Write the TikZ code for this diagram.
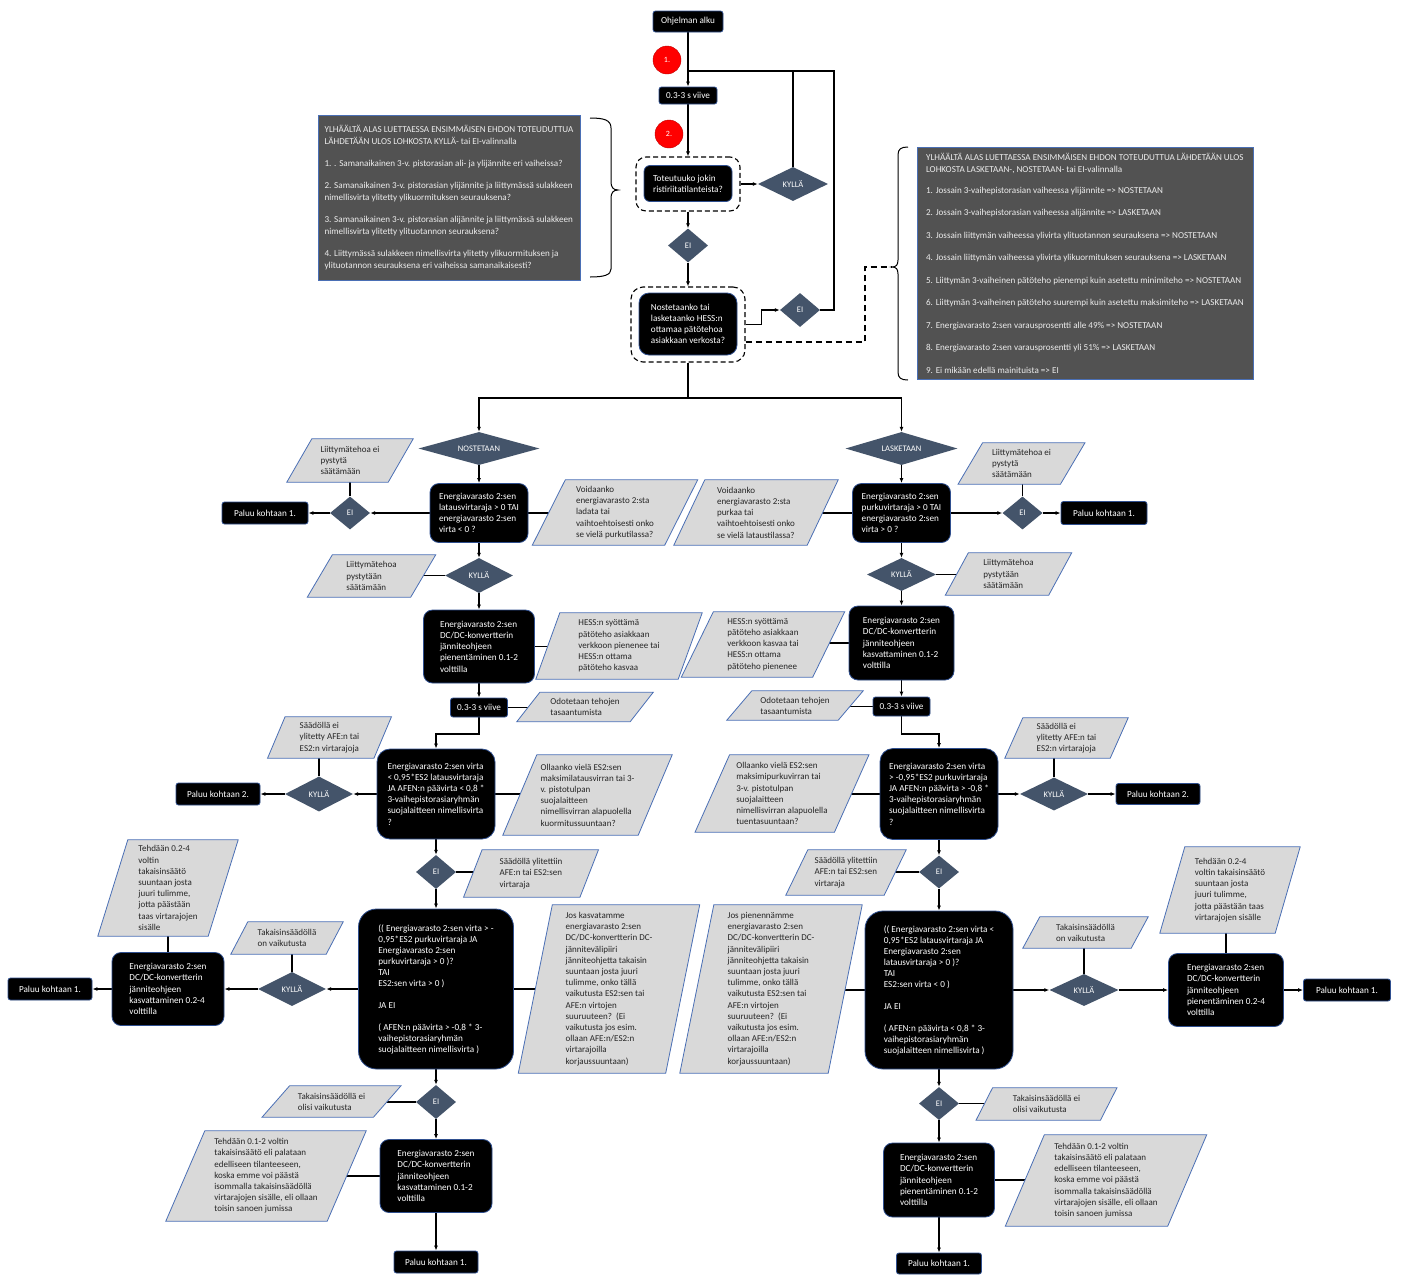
\documentclass[tikz,border=0pt]{standalone}
\usepackage{fontspec}
\setmainfont{Carlito}
\usetikzlibrary{shapes.geometric,arrows.meta,calc}

\pgfdeclarelayer{bg}
\pgfdeclarelayer{lines}
\pgfdeclarelayer{shapes}
\pgfsetlayers{bg,lines,shapes,main}

\definecolor{boxborder}{HTML}{2F4F8F}
\definecolor{diafill}{HTML}{44546A}
\definecolor{parafill}{HTML}{D9D9D9}
\definecolor{paraborder}{HTML}{4A6FB5}
\definecolor{notefill}{HTML}{525252}
\definecolor{notetext}{HTML}{EDEDED}
\definecolor{redmark}{HTML}{FF0000}

\tikzset{
  conn/.style={line width=1.1pt, draw=black},
  arr/.style={conn, -{Latex[length=5pt,width=4pt]}},
  blk/.style={draw=boxborder, line width=0.8pt, fill=black, text=white,
    rounded corners=9pt, align=left, inner sep=1pt,
    font=\fontsize{9.2}{11.2}\selectfont},
  smallblk/.style={blk, rounded corners=2.5pt},
  frm/.style={draw=black, line width=1.1pt, dash pattern=on 5pt off 3pt},
  dia/.style={diamond, fill=diafill, text=white, inner sep=0pt, aspect=2,
    font=\fontsize{8.5}{10}\selectfont},
  paratext/.style={align=left, inner sep=1pt, text=black!85,
    font=\fontsize{9}{11.2}\selectfont},
  parashape/.style={fill=parafill, draw=paraborder, line width=0.8pt},
  note/.style={fill=notefill, draw=paraborder, line width=0.8pt,
    text=notetext, align=left, inner sep=4pt},
  redc/.style={circle, fill=redmark, draw=red!75!black, line width=0.4pt,
    minimum size=28pt, inner sep=0pt, text=white,
    font=\fontsize{8}{9}\selectfont},
  brc/.style={line width=1pt, draw=black},
}

% parallelogram: name, x, y, width at mid height, height, slant, text
\newcommand\paranode[7]{%
  \node[paratext, minimum width=#4pt, minimum height=#5pt] (#1) at (#2,#3) {#7};
  \begin{pgfonlayer}{shapes}
    \path[parashape] ($(#1.north west)+(0.5*#6,0)$) -- ($(#1.north east)+(0.5*#6,0)$)
      -- ($(#1.south east)-(0.5*#6,0)$) -- ($(#1.south west)-(0.5*#6,0)$) -- cycle;
  \end{pgfonlayer}}

\begin{document}
\begin{tikzpicture}[x=1pt, y=-1pt]
\begin{pgfonlayer}{bg}
  \fill[white] (0,0) rectangle (1401,1275);
\end{pgfonlayer}
\useasboundingbox (0,0) rectangle (1401,1275);

% ---------- start and conflict check ----------
\node[smallblk, minimum width=70pt, minimum height=21pt] (alku) at (688,21.5) {Ohjelman alku};
\node[redc] (c1) at (667,60) {1.};
\node[smallblk, minimum width=58pt, minimum height=17pt] (viive0) at (688,95.5) {0.3-3 s viive};
\node[redc] (c2) at (669,134) {2.};
\node[frm, rounded corners=10pt, minimum width=104pt, minimum height=54pt] (frame1) at (688,184) {};
\node[blk, rounded corners=6pt, minimum width=88pt, minimum height=36pt] (ask1) at (688,183.5) {Toteutuuko jokin\\ristiriitatilanteista?};
\node[dia, minimum width=70pt, minimum height=34pt] (kylla0) at (793,184) {KYLLÄ};
\node[dia, minimum width=40pt, minimum height=34pt] (ei0) at (688,245.5) {EI};
\node[frm, rounded corners=12pt, minimum width=114pt, minimum height=75pt] (frame2) at (688,324.5) {};
\node[blk, rounded corners=10pt, minimum width=98pt, minimum height=62pt] (ask2) at (688,324) {Nostetaanko tai\\lasketaanko HESS:n\\ottamaa pätötehoa\\asiakkaan verkosta?};
\node[dia, minimum width=40pt, minimum height=34pt] (ei1) at (800,310) {EI};

\node[note, minimum width=262pt, minimum height=165pt, font=\fontsize{9.1}{12}\selectfont] (noteL) at (449,197.5) {%
YLHÄÄLTÄ ALAS LUETTAESSA ENSIMMÄISEN EHDON TOTEUDUTTUA\\
LÄHDETÄÄN ULOS LOHKOSTA KYLLÄ- tai EI-valinnalla\\[10pt]
1. . Samanaikainen 3-v. pistorasian ali- ja ylijännite eri vaiheissa?\\[10pt]
2. Samanaikainen 3-v. pistorasian ylijännite ja liittymässä sulakkeen\\
nimellisvirta ylitetty ylikuormituksen seurauksena?\\[10pt]
3. Samanaikainen 3-v. pistorasian alijännite ja liittymässä sulakkeen\\
nimellisvirta ylitetty ylituotannon seurauksena?\\[10pt]
4. Liittymässä sulakkeen nimellisvirta ylitetty ylikuormituksen ja\\
ylituotannon seurauksena eri vaiheissa samanaikaisesti?};

\node[note, minimum width=336pt, minimum height=232pt, font=\fontsize{9.1}{12.5}\selectfont] (noteR) at (1085,263) {%
YLHÄÄLTÄ ALAS LUETTAESSA ENSIMMÄISEN EHDON TOTEUDUTTUA LÄHDETÄÄN ULOS\\
LOHKOSTA LASKETAAN-, NOSTETAAN- tai EI-valinnalla\\[8pt]
1. Jossain 3-vaihepistorasian vaiheessa ylijännite => NOSTETAAN\\[10pt]
2. Jossain 3-vaihepistorasian vaiheessa alijännite => LASKETAAN\\[10pt]
3. Jossain liittymän vaiheessa ylivirta ylituotannon seurauksena => NOSTETAAN\\[10pt]
4. Jossain liittymän vaiheessa ylivirta ylikuormituksen seurauksena => LASKETAAN\\[10pt]
5. Liittymän 3-vaiheinen pätöteho pienempi kuin asetettu minimiteho => NOSTETAAN\\[10pt]
6. Liittymän 3-vaiheinen pätöteho suurempi kuin asetettu maksimiteho => LASKETAAN\\[10pt]
7. Energiavarasto 2:sen varausprosentti alle 49\% => NOSTETAAN\\[10pt]
8. Energiavarasto 2:sen varausprosentti yli 51\% => LASKETAAN\\[10pt]
9. Ei mikään edellä mainituista => EI};

% braces
\draw[brc] (590,118) .. controls (604,118) and (611,120) .. (611,128) -- (611,182)
  .. controls (611,187) and (613,190) .. (618,190) .. controls (613,190) and (611,193) .. (611,198)
  -- (611,269) .. controls (611,275) and (604,277) .. (590,277);
\draw[brc] (908,147) .. controls (901,147) and (898,149) .. (898,155) -- (898,260)
  .. controls (898,265) and (896,267) .. (892,267) .. controls (896,267) and (898,269) .. (898,274)
  -- (898,372) .. controls (898,378) and (901,380) .. (908,380);

\coordinate (jn) at (688,71);
\coordinate (jr) at (834,71);
\coordinate (rbtip) at (892,267);
\coordinate (dj) at (865,342);
\coordinate (sp) at (688,398);
\coordinate (jl) at (479,734);
\coordinate (jrr) at (901.5,734);

% ---------- NOSTETAAN branch ----------
\node[dia, minimum width=121pt, minimum height=33pt] (nost) at (479,448.5) {NOSTETAAN};
\node[blk, minimum width=98pt, minimum height=59pt] (L1) at (479,513) {Energiavarasto 2:sen\\latausvirtaraja > 0 TAI\\energiavarasto 2:sen\\virta < 0 ?};
\node[dia, minimum width=40pt, minimum height=33pt] (eiL1) at (350,513) {EI};
\node[smallblk, minimum width=86pt, minimum height=22pt] (paluuL1) at (265,513) {Paluu kohtaan 1.};
\paranode{P1}{350}{460.5}{101}{43}{25}{Liittymätehoa ei\\pystytä\\säätämään}
\paranode{P2}{615}{512.5}{132}{65}{33}{Voidaanko\\energiavarasto 2:sta\\ladata tai\\vaihtoehtoisesti onko\\se vielä purkutilassa?}
\node[dia, minimum width=68pt, minimum height=35pt] (kyllaL1) at (479,575.5) {KYLLÄ};
\paranode{P3}{371.5}{576}{103}{42}{25}{Liittymätehoa\\pystytään\\säätämään}
\node[blk, minimum width=111pt, minimum height=73pt] (L2) at (479,646.5) {Energiavarasto 2:sen\\DC/DC-konvertterin\\jänniteohjeen\\pienentäminen 0.1-2\\volttilla};
\paranode{P4}{619}{646}{142}{66}{24}{HESS:n syöttämä\\pätöteho asiakkaan\\verkkoon pienenee tai\\HESS:n ottama\\pätöteho kasvaa}
\node[smallblk, minimum width=57pt, minimum height=19pt] (viiveL) at (479,707.5) {0.3-3 s viive};
\paranode{P5}{585}{707}{113}{29}{23}{Odotetaan tehojen\\tasaantumista}

\node[blk, rounded corners=13pt, minimum width=118pt, minimum height=90pt] (L3) at (436,794) {Energiavarasto 2:sen virta\\< 0,95*ES2 latausvirtaraja\\JA AFEN:n päävirta < 0,8 *\\3-vaihepistorasiaryhmän\\suojalaitteen nimellisvirta\\?};
\node[dia, minimum width=68pt, minimum height=35pt] (kyllaL3) at (319,794) {KYLLÄ};
\node[smallblk, minimum width=84pt, minimum height=22pt] (paluu2L) at (218,794) {Paluu kohtaan 2.};
\paranode{P6}{329.5}{737.5}{106}{41}{17.5}{Säädöllä ei\\ylitetty AFE:n tai\\ES2:n virtarajoja}
\paranode{P7}{587.5}{795}{135}{80}{34}{Ollaanko vielä ES2:sen\\maksimilatausvirran tai 3-\\v. pistotulpan\\suojalaitteen\\nimellisvirran alapuolella\\kuormitussuuntaan?}
\node[dia, minimum width=40pt, minimum height=34pt] (eiL3) at (436,872) {EI};
\paranode{P8}{531}{873.5}{116}{47}{18.5}{Säädöllä ylitettiin\\AFE:n tai ES2:sen\\virtaraja}

\node[blk, rounded corners=18pt, minimum width=155pt, minimum height=160pt, font=\fontsize{9.2}{11}\selectfont] (L6) at (436,989) {(( Energiavarasto 2:sen virta > -\\0,95*ES2 purkuvirtaraja JA\\Energiavarasto 2:sen\\purkuvirtaraja > 0 )?\\TAI\\ES2:sen virta > 0 )\\[11pt]JA EI\\[11pt]( AFEN:n päävirta > -0,8 * 3-\\vaihepistorasiaryhmän\\suojalaitteen nimellisvirta )};
\node[dia, minimum width=68pt, minimum height=34pt] (kyllaL6) at (292,989) {KYLLÄ};
\node[blk, minimum width=112pt, minimum height=73pt] (L5) at (168,989) {Energiavarasto 2:sen\\DC/DC-konvertterin\\jänniteohjeen\\kasvattaminen 0.2-4\\volttilla};
\node[smallblk, minimum width=84pt, minimum height=22pt] (paluuL5) at (50,989) {Paluu kohtaan 1.};
\paranode{P9}{168}{888}{110}{96}{30}{Tehdään 0.2-4\\voltin\\takaisinsäätö\\suuntaan josta\\juuri tulimme,\\jotta päästään\\taas virtarajojen\\sisälle}
\paranode{P10}{287}{938}{95}{32}{17}{Takaisinsäädöllä\\on vaikutusta}
\paranode{P11}{609}{989}{147}{168}{34}{Jos kasvatamme\\energiavarasto 2:sen\\DC/DC-konvertterin DC-\\jännitevälipiiri\\jänniteohjetta takaisin\\suuntaan josta juuri\\tulimme, onko tällä\\vaikutusta ES2:sen tai\\AFE:n virtojen\\suuruuteen?\ \ (Ei\\vaikutusta jos esim.\\ollaan AFE:n/ES2:n\\virtarajoilla\\korjaussuuntaan)}
\node[dia, minimum width=40pt, minimum height=34pt] (eiL6) at (436,1102) {EI};
\paranode{P12}{331.5}{1101.5}{111}{31}{27.5}{Takaisinsäädöllä ei\\olisi vaikutusta}
\node[blk, minimum width=112pt, minimum height=73pt] (L7) at (436,1176) {Energiavarasto 2:sen\\DC/DC-konvertterin\\jänniteohjeen\\kasvattaminen 0.1-2\\volttilla};
\paranode{P13}{266}{1176}{161}{90}{39}{Tehdään 0.1-2 voltin\\takaisinsäätö eli palataan\\edelliseen tilanteeseen,\\koska emme voi päästä\\isommalla takaisinsäädöllä\\virtarajojen sisälle, eli ollaan\\toisin sanoen jumissa}
\node[smallblk, minimum width=84pt, minimum height=22pt] (paluuL7) at (436,1262) {Paluu kohtaan 1.};

% ---------- LASKETAAN branch ----------
\node[dia, minimum width=112pt, minimum height=33pt] (lask) at (901.5,448.5) {LASKETAAN};
\node[blk, minimum width=98pt, minimum height=59pt] (R1) at (901.5,513) {Energiavarasto 2:sen\\purkuvirtaraja > 0 TAI\\energiavarasto 2:sen\\virta > 0 ?};
\node[dia, minimum width=40pt, minimum height=33pt] (eiR1) at (1022.5,513) {EI};
\node[smallblk, minimum width=86pt, minimum height=23pt] (paluuR1) at (1104,513) {Paluu kohtaan 1.};
\paranode{Q1}{1021.5}{463.5}{102}{41}{24.5}{Liittymätehoa ei\\pystytä\\säätämään}
\paranode{Q2}{756}{512.5}{133}{65}{31}{Voidaanko\\energiavarasto 2:sta\\purkaa tai\\vaihtoehtoisesti onko\\se vielä lataustilassa?}
\node[dia, minimum width=69pt, minimum height=33pt] (kyllaR1) at (901.5,574.5) {KYLLÄ};
\paranode{Q3}{1008.5}{574}{103}{42}{23}{Liittymätehoa\\pystytään\\säätämään}
\node[blk, minimum width=105pt, minimum height=74pt] (R2) at (901.5,643) {Energiavarasto 2:sen\\DC/DC-konvertterin\\jänniteohjeen\\kasvattaminen 0.1-2\\volttilla};
\paranode{Q4}{763}{644.5}{131}{65}{32}{HESS:n syöttämä\\pätöteho asiakkaan\\verkkoon kasvaa tai\\HESS:n ottama\\pätöteho pienenee}
\node[smallblk, minimum width=57pt, minimum height=19pt] (viiveR) at (901.5,706.5) {0.3-3 s viive};
\paranode{Q5}{795}{705.5}{111}{29}{25}{Odotetaan tehojen\\tasaantumista}

\node[blk, rounded corners=13pt, minimum width=118pt, minimum height=91pt] (R3) at (939,794) {Energiavarasto 2:sen virta\\> -0,95*ES2 purkuvirtaraja\\JA AFEN:n päävirta > -0,8 *\\3-vaihepistorasiaryhmän\\suojalaitteen nimellisvirta\\?};
\node[dia, minimum width=68pt, minimum height=33pt] (kyllaR3) at (1054,794) {KYLLÄ};
\node[smallblk, minimum width=84pt, minimum height=21pt] (paluu2R) at (1158,794) {Paluu kohtaan 2.};
\paranode{Q6}{1066.5}{738}{105}{40}{18}{Säädöllä ei\\ylitetty AFE:n tai\\ES2:n virtarajoja}
\paranode{Q7}{782}{793.5}{139}{77}{34.5}{Ollaanko vielä ES2:sen\\maksimipurkuvirran tai\\3-v. pistotulpan\\suojalaitteen\\nimellisvirran alapuolella\\tuentasuuntaan?}
\node[dia, minimum width=40pt, minimum height=33pt] (eiR3) at (939,872) {EI};
\paranode{Q8}{846}{872.5}{98}{45}{22}{Säädöllä ylitettiin\\AFE:n tai ES2:sen\\virtaraja}

\node[blk, rounded corners=18pt, minimum width=148pt, minimum height=158pt, font=\fontsize{9.2}{11}\selectfont] (R6) at (939,990) {(( Energiavarasto 2:sen virta <\\0,95*ES2 latausvirtaraja JA\\Energiavarasto 2:sen\\latausvirtaraja > 0 )?\\TAI\\ES2:sen virta < 0 )\\[11pt]JA EI\\[11pt]( AFEN:n päävirta < 0,8 * 3-\\vaihepistorasiaryhmän\\suojalaitteen nimellisvirta )};
\node[dia, minimum width=69pt, minimum height=32pt] (kyllaR6) at (1084,990) {KYLLÄ};
\node[blk, minimum width=115pt, minimum height=73pt] (R5) at (1226,990) {Energiavarasto 2:sen\\DC/DC-konvertterin\\jänniteohjeen\\pienentäminen 0.2-4\\volttilla};
\node[smallblk, minimum width=87pt, minimum height=22pt] (paluuR5) at (1347,990) {Paluu kohtaan 1.};
\paranode{Q9}{1230}{890}{115}{86}{25}{Tehdään 0.2-4\\voltin takaisinsäätö\\suuntaan josta\\juuri tulimme,\\jotta päästään taas\\virtarajojen sisälle}
\paranode{Q10}{1085.5}{932.5}{108}{31}{17}{Takaisinsäädöllä\\on vaikutusta}
\paranode{Q11}{771}{989}{148}{168}{34}{Jos pienennämme\\energiavarasto 2:sen\\DC/DC-konvertterin DC-\\jännitevälipiiri\\jänniteohjetta takaisin\\suuntaan josta juuri\\tulimme, onko tällä\\vaikutusta ES2:sen tai\\AFE:n virtojen\\suuruuteen?\ \ (Ei\\vaikutusta jos esim.\\ollaan AFE:n/ES2:n\\virtarajoilla\\korjaussuuntaan)}
\node[dia, minimum width=40pt, minimum height=33pt] (eiR6) at (939,1103.5) {EI};
\paranode{Q12}{1046.5}{1104}{124}{32}{16.5}{Takaisinsäädöllä ei\\olisi vaikutusta}
\node[blk, minimum width=111pt, minimum height=74pt] (R7) at (939,1180) {Energiavarasto 2:sen\\DC/DC-konvertterin\\jänniteohjeen\\pienentäminen 0.1-2\\volttilla};
\paranode{Q13}{1106}{1180.5}{162}{91}{39}{Tehdään 0.1-2 voltin\\takaisinsäätö eli palataan\\edelliseen tilanteeseen,\\koska emme voi päästä\\isommalla takaisinsäädöllä\\virtarajojen sisälle, eli ollaan\\toisin sanoen jumissa}
\node[smallblk, minimum width=85pt, minimum height=21pt] (paluuR7) at (939,1263.5) {Paluu kohtaan 1.};

% ---------- connectors ----------
\begin{pgfonlayer}{lines}
  % top part
  \draw[arr] (alku) -- (viive0);
  \draw[conn] (kylla0.north) |- (jn);
  \draw[conn] (ei1.east) -| (jr) -- (jn);
  \draw[arr] (viive0) -- (frame1);
  \draw[arr] (frame1.east) -- (kylla0.west);
  \draw[arr] (frame1) -- (ei0);
  \draw[arr] (ei0) -- (frame2);
  \draw[arr] (frame2.east) -- ++(16,0) |- (ei1.west);
  \draw[conn, dash pattern=on 6pt off 4pt] (frame2.east |- dj) -- (dj) |- (rbtip);
  \draw[conn] (frame2.south) -- (sp);
  \draw[arr] (sp) -| (nost.north);
  \draw[arr] (sp) -| (lask.north);

  % NOSTETAAN branch
  \draw[arr] (nost) -- (L1);
  \draw[arr] (L1) -- (eiL1);
  \draw[arr] (eiL1) -- (paluuL1);
  \draw[conn] (eiL1.north) -- (eiL1.north |- P1.center);
  \draw[conn] (L1.east) -- (L1.east -| P2.center);
  \draw[arr] (L1) -- (kyllaL1);
  \draw[conn] (kyllaL1.west) -- (kyllaL1.west -| P3.center);
  \draw[arr] (kyllaL1) -- (L2);
  \draw[conn] (L2.east) -- (L2.east -| P4.center);
  \draw[arr] (L2) -- (viiveL);
  \draw[conn] (viiveL.east) -- (viiveL.east -| P5.center);
  \draw[arr] (viiveL.south) -- (jl) -| (L3.north);
  \draw[arr] (L3) -- (kyllaL3);
  \draw[arr] (kyllaL3) -- (paluu2L);
  \draw[conn] (kyllaL3.north) -- (kyllaL3.north |- P6.center);
  \draw[conn] (L3.east) -- (L3.east -| P7.center);
  \draw[arr] (L3) -- (eiL3);
  \draw[conn] (eiL3.east) -- (eiL3.east -| P8.center);
  \draw[arr] (eiL3) -- (L6);
  \draw[arr] (L6) -- (kyllaL6);
  \draw[arr] (kyllaL6) -- (L5);
  \draw[arr] (L5) -- (paluuL5);
  \draw[conn] (kyllaL6.north) -- (kyllaL6.north |- P10.center);
  \draw[conn] (L5.north) -- (L5.north |- P9.center);
  \draw[conn] (L6.east) -- (L6.east -| P11.center);
  \draw[arr] (L6) -- (eiL6);
  \draw[conn] (eiL6.west) -- (eiL6.west -| P12.center);
  \draw[arr] (eiL6) -- (L7);
  \draw[conn] (L7.west) -- (L7.west -| P13.center);
  \draw[arr] (L7) -- (paluuL7);

  % LASKETAAN branch
  \draw[arr] (lask) -- (R1);
  \draw[arr] (R1) -- (eiR1);
  \draw[arr] (eiR1) -- (paluuR1);
  \draw[conn] (eiR1.north) -- (eiR1.north |- Q1.center);
  \draw[conn] (R1.west) -- (R1.west -| Q2.center);
  \draw[arr] (R1) -- (kyllaR1);
  \draw[conn] (kyllaR1.east) -- (kyllaR1.east -| Q3.center);
  \draw[arr] (kyllaR1) -- (R2);
  \draw[conn] (R2.west) -- (R2.west -| Q4.center);
  \draw[arr] (R2) -- (viiveR);
  \draw[conn] (viiveR.west) -- (viiveR.west -| Q5.center);
  \draw[arr] (viiveR.south) -- (jrr) -| (R3.north);
  \draw[arr] (R3) -- (kyllaR3);
  \draw[arr] (kyllaR3) -- (paluu2R);
  \draw[conn] (kyllaR3.north) -- (kyllaR3.north |- Q6.center);
  \draw[conn] (R3.west) -- (R3.west -| Q7.center);
  \draw[arr] (R3) -- (eiR3);
  \draw[conn] (eiR3.west) -- (eiR3.west -| Q8.center);
  \draw[arr] (eiR3) -- (R6);
  \draw[arr] (R6) -- (kyllaR6);
  \draw[arr] (kyllaR6) -- (R5);
  \draw[arr] (R5) -- (paluuR5);
  \draw[conn] (kyllaR6.north) -- (kyllaR6.north |- Q10.center);
  \draw[conn] (R5.north) -- (R5.north |- Q9.center);
  \draw[conn] (R6.west) -- (R6.west -| Q11.center);
  \draw[arr] (R6) -- (eiR6);
  \draw[conn] (eiR6.east) -- (eiR6.east -| Q12.center);
  \draw[arr] (eiR6) -- (R7);
  \draw[conn] (R7.east) -- (R7.east -| Q13.center);
  \draw[arr] (R7) -- (paluuR7);
\end{pgfonlayer}
\end{tikzpicture}
\end{document}
